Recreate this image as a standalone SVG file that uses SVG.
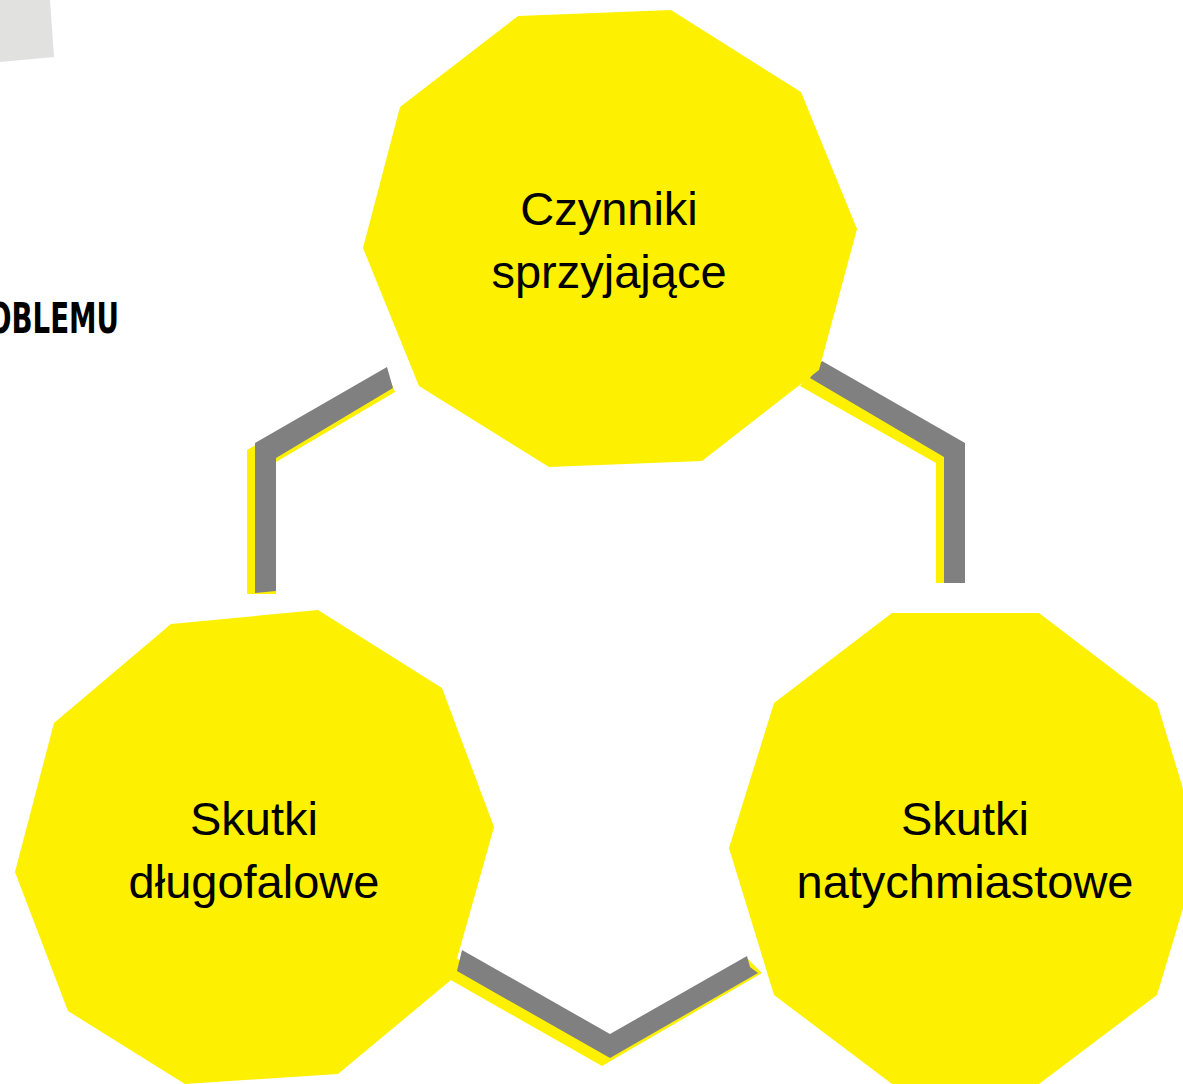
<svg xmlns="http://www.w3.org/2000/svg" width="1183" height="1084" viewBox="0 0 1183 1084">
<style>
.node{fill:#fdf000}
.band{fill:#808080}
.shadow{fill:#fdf000}
.lbl{font-family:"Liberation Sans",Arial,sans-serif;font-size:47px;fill:#000;text-anchor:middle}
.head{font-family:"DejaVu Sans Condensed","Liberation Sans Narrow",sans-serif;font-weight:bold;font-size:43px;fill:#000}
</style>
<rect width="1183" height="1084" fill="#fff"/>
<polygon points="0,0 50,0 54,57 0,62" fill="#e1e1e0"/>
<text class="head" x="-12" y="333" textLength="131" lengthAdjust="spacingAndGlyphs">OBLEMU</text>
<g id="connectors">
  <polygon class="shadow" points="247,450 386,370 395,392 276,462 276,594 247,594"/>
  <polygon class="band" points="387,367 255,443 255,593 276,591 276,458 393,388"/>
  <polygon class="shadow" points="814,368 957,451 957,583 936,583 936,463 800,386"/>
  <polygon class="band" points="822,361 965,443 965,583 944,583 944,457 810,378"/>
  <polygon class="shadow" points="454,957 602,1041 748,959 762,973 602,1066 449,979"/>
  <polygon class="band" points="462,950 610,1034 747,956 750,967 758,973 610,1058 457,971"/>
</g>
<g id="node-czynniki">
  <polygon class="node" points="518,16 671,10 801,92 857,229 819,370 702,461 549,467 419,386 363,248 400,107"/>
  <text class="lbl" x="609" y="225">Czynniki</text>
  <text class="lbl" x="609" y="288">sprzyjające</text>
</g>
<g id="node-dlugofalowe">
  <polygon class="node" points="171,624 318,610 442,688 494,827 451,980 338,1074 185,1084 68,1011 15,872 54,723"/>
  <text class="lbl" x="254" y="835">Skutki</text>
  <text class="lbl" x="254" y="898">długofalowe</text>
</g>
<g id="node-natychmiastowe">
  <polygon class="node" points="892,613 1039,613 1157,703 1201,848 1157,995 1039,1084 892,1084 774,995 729,848 774,703"/>
  <text class="lbl" x="965" y="835">Skutki</text>
  <text class="lbl" x="965" y="898">natychmiastowe</text>
</g>
</svg>
